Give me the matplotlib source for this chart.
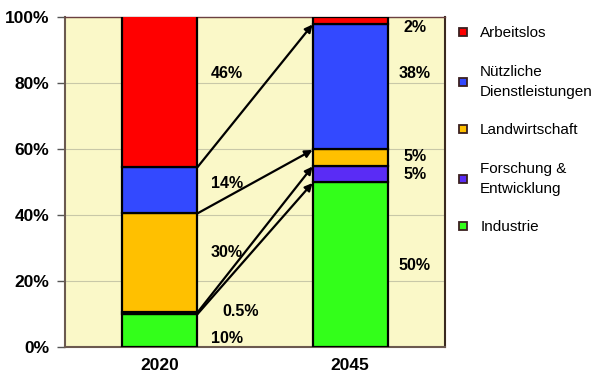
import matplotlib.pyplot as plt
from matplotlib.lines import Line2D

plt.rcParams['font.family'] = ['Liberation Sans', 'DejaVu Sans']

years = ['2020', '2045']
categories = ['Industrie', 'Forschung &\nEntwicklung', 'Landwirtschaft',
              'Nützliche\nDienstleistungen', 'Arbeitslos']
colors = ['#33ff1a', '#5a2cf5', '#ffc000', '#3349ff', '#ff0000']
values_2020 = [10, 0.5, 30, 14, 46]
values_2045 = [50, 5, 5, 38, 2]
labels_2020 = ['10%', '0.5%', '30%', '14%', '46%']
labels_2045 = ['50%', '5%', '5%', '38%', '2%']
# label heights (in %)
label_y_2020 = [2.7, 10.8, 28.8, 49.7, 83]
label_y_2045 = [24.8, 52.2, 57.6, 83, 96.7]

fig = plt.figure(figsize=(6, 3.84), dpi=100)
ax = fig.add_axes([0.108, 0.096, 0.634, 0.86])
ax.set_facecolor('#faf8c8')

width = 0.395
for i, vals in enumerate([values_2020, values_2045]):
    bottom = 0
    for v, c in zip(vals, colors):
        ax.bar(i, v, width, bottom=bottom, color=c, edgecolor='black',
               linewidth=1.6, zorder=3)
        bottom += v

# arrows between the bars
def cum(vals, k):
    return sum(vals[:k + 1])

edge = width / 2
pairs = [(cum(values_2020, 3), cum(values_2045, 3)),
         (cum(values_2020, 2), cum(values_2045, 2)),
         (cum(values_2020, 1), cum(values_2045, 1)),
         (cum(values_2020, 0), cum(values_2045, 0))]
for y0, y1 in pairs:
    ax.annotate('', xy=(1 - edge, min(y1, 100) - 0.3), xytext=(edge, y0),
                arrowprops=dict(arrowstyle='-|>', color='black', lw=1.6,
                                mutation_scale=11, shrinkA=0, shrinkB=0),
                zorder=4)

for lab, y in zip(labels_2020, label_y_2020):
    dx = 0.13 if lab == '0.5%' else 0.07
    ax.text(edge + dx, y, lab, fontsize=11.5, fontweight='bold',
            va='center', ha='left', zorder=5)
for lab, y in zip(labels_2045, label_y_2045):
    ax.text(1.34, y, lab, fontsize=11.5, fontweight='bold',
            va='center', ha='center', zorder=5)

ax.set_xlim(-0.5, 1.5)
ax.set_ylim(0, 100)
ax.set_xticks([0, 1])
ax.set_xticklabels(years, fontsize=12.5, fontweight='bold')
ax.set_yticks(range(0, 101, 20))
ax.set_yticklabels([f'{t}%' for t in range(0, 101, 20)], fontsize=12.5,
                   fontweight='bold')
ax.tick_params(axis='x', length=0, pad=8)
ax.tick_params(axis='y', length=6, width=1, color='#555555', pad=5)
ax.yaxis.grid(True, color='#c8c8a8', linewidth=0.8, zorder=0)
ax.set_axisbelow(True)
for s in ['left', 'bottom']:
    ax.spines[s].set_color('#6b5a50')
    ax.spines[s].set_linewidth(1.5)
ax.spines['right'].set_color('#3a2a20')
ax.spines['right'].set_linewidth(1.5)
ax.spines['top'].set_color('#6b4040')
ax.spines['top'].set_linewidth(1)

handles = [Line2D([], [], marker='s', linestyle='none', markersize=6,
                  markerfacecolor=c, markeredgecolor='#3a2020',
                  markeredgewidth=1.3) for c in colors]
leg = fig.legend(handles[::-1], categories[::-1], loc='upper left',
                 bbox_to_anchor=(0.738, 0.967), frameon=False, fontsize=11,
                 handlelength=0.8, handletextpad=0.75, labelspacing=1.6)
for t in leg.get_texts():
    t.set_linespacing(1.55)

fig.savefig('out.png', dpi=100)
